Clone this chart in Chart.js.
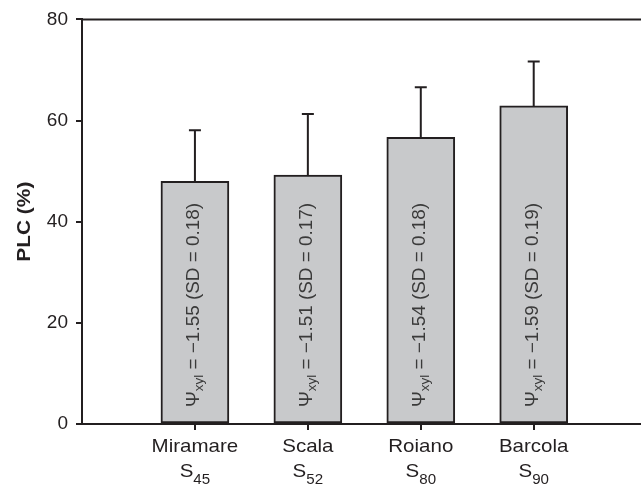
<!DOCTYPE html>
<html>
<head>
<meta charset="utf-8">
<script src="https://cdn.jsdelivr.net/npm/chart.js@4/dist/chart.umd.min.js"></script>
<style>
  html, body { margin: 0; padding: 0; background: #ffffff; }
  #wrap { width: 641px; height: 486px; }
</style>
</head>
<body>
<div id="wrap"><canvas id="plc" width="641" height="486"></canvas></div>
<script>
// Sites along the transect and their code
const sites = ['Miramare', 'Scala', 'Roiano', 'Barcola'];
const siteCodes = ['45', '52', '80', '90'];
// Percentage loss of hydraulic conductivity (mean) and its error
const plcMean = [48.0, 49.2, 56.7, 62.9];
const plcError = [10.1, 12.1, 9.9, 8.8];
// Xylem water potential (MPa) and its standard deviation
const psiXyl = ['\u22121.55', '\u22121.51', '\u22121.54', '\u22121.59'];
const psiSD = ['0.18', '0.17', '0.18', '0.19'];
const yTicks = [0, 20, 40, 60, 80];

const INK = '#231f20';
const FONT = '"Liberation Sans", Arial, sans-serif';

const sitePositions = sites.map((_, i) => i + 1);

// Draws text stretched along its own direction
function wideText(ctx, text, x, y, stretch) {
  ctx.save();
  ctx.translate(x, y);
  ctx.scale(stretch, 1);
  ctx.fillText(text, 0, 0);
  ctx.restore();
  return ctx.measureText(text).width * stretch;
}

// Error bars above each column
const errorBars = {
  id: 'errorBars',
  afterDatasetsDraw(chart) {
    const { ctx, scales: { x, y } } = chart;
    ctx.save();
    ctx.strokeStyle = INK;
    ctx.lineWidth = 2;
    plcMean.forEach((v, i) => {
      const px = x.getPixelForValue(sitePositions[i]);
      const top = y.getPixelForValue(v + plcError[i]);
      const base = y.getPixelForValue(v);
      ctx.beginPath();
      ctx.moveTo(px, base);
      ctx.lineTo(px, top);
      ctx.moveTo(px - 6, top);
      ctx.lineTo(px + 6, top);
      ctx.stroke();
    });
    ctx.restore();
  }
};

// Vertical water-potential annotations inside the columns
const barText = {
  id: 'barText',
  afterDatasetsDraw(chart) {
    const { ctx, scales: { x, y } } = chart;
    const big = '17.5px ' + FONT;
    const small = '12.5px ' + FONT;
    const k = 1.08;
    ctx.save();
    ctx.fillStyle = '#3a3a3a';
    ctx.textBaseline = 'alphabetic';
    ctx.textAlign = 'left';
    sites.forEach((_, i) => {
      const px = x.getPixelForValue(sitePositions[i]);
      const py = y.getPixelForValue(0) - 17;
      ctx.save();
      ctx.translate(px + 4, py);
      ctx.rotate(-Math.PI / 2);
      let cx = 0;
      ctx.font = big;
      cx += wideText(ctx, '\u03A8', cx, 0, k);
      ctx.font = small;
      cx += wideText(ctx, 'xyl', cx, 4, k);
      ctx.font = big;
      wideText(ctx, ' = ' + psiXyl[i] + ' (SD = ' + psiSD[i] + ')', cx, 0, k);
      ctx.restore();
    });
    ctx.restore();
  }
};

// Axis title, category names with subscripted site codes, and the top frame line
const frameAndLabels = {
  id: 'frameAndLabels',
  afterDraw(chart) {
    const { ctx, chartArea, scales: { x, y } } = chart;
    ctx.save();
    ctx.strokeStyle = INK;
    ctx.lineWidth = 2;
    ctx.beginPath();
    ctx.moveTo(chartArea.left, chartArea.top);
    ctx.lineTo(chartArea.right, chartArea.top);
    ctx.stroke();

    ctx.fillStyle = INK;
    ctx.textBaseline = 'alphabetic';
    ctx.textAlign = 'left';

    // y-axis title
    ctx.save();
    ctx.font = 'bold 19px ' + FONT;
    const title = 'PLC (%)';
    const tw = ctx.measureText(title).width * 1.1;
    ctx.translate(30, (chartArea.top + chartArea.bottom) / 2);
    ctx.rotate(-Math.PI / 2);
    wideText(ctx, title, -tw / 2, 0, 1.1);
    ctx.restore();

    const base = y.getPixelForValue(0);
    const k = 1.08;
    sites.forEach((name, i) => {
      const px = x.getPixelForValue(sitePositions[i]);
      ctx.font = '19px ' + FONT;
      const nw = ctx.measureText(name).width * k;
      wideText(ctx, name, px - nw / 2, base + 28, k);
      const sW = ctx.measureText('S').width * k;
      ctx.font = '14px ' + FONT;
      const subW = ctx.measureText(siteCodes[i]).width * k;
      const start = px - (sW + subW) / 2;
      ctx.font = '19px ' + FONT;
      wideText(ctx, 'S', start, base + 53, k);
      ctx.font = '14px ' + FONT;
      wideText(ctx, siteCodes[i], start + sW, base + 60, k);
    });
    ctx.restore();
  }
};

new Chart(document.getElementById('plc'), {
  type: 'bar',
  data: {
    datasets: [{
      data: plcMean.map((v, i) => ({ x: sitePositions[i], y: v })),
      backgroundColor: '#c8c9cb',
      borderColor: INK,
      borderWidth: 2,
      borderSkipped: false,
      barThickness: 68
    }]
  },
  options: {
    responsive: false,
    devicePixelRatio: 1,
    animation: false,
    layout: { padding: { top: 19, right: 0, left: 0, bottom: 0 } },
    plugins: { legend: { display: false }, tooltip: { enabled: false } },
    scales: {
      x: {
        type: 'linear',
        offset: false,
        min: 0,
        max: 4.95,
        afterBuildTicks: (s) => { s.ticks = sitePositions.map(v => ({ value: v })); },
        afterFit: (s) => { s.height = 62; },
        ticks: { display: false },
        grid: { offset: false, drawOnChartArea: false, drawTicks: true, tickLength: 6, color: INK, lineWidth: 2 },
        border: { color: INK, width: 2 }
      },
      y: {
        min: 0,
        max: 80,
        afterBuildTicks: (s) => { s.ticks = yTicks.map(v => ({ value: v })); },
        afterFit: (s) => { s.width = 82; },
        ticks: { color: INK, font: { family: FONT, size: 19 }, padding: 8 },
        grid: { drawOnChartArea: false, drawTicks: true, tickLength: 6, color: INK, lineWidth: 2 },
        border: { color: INK, width: 2 }
      }
    }
  },
  plugins: [errorBars, barText, frameAndLabels]
});
</script>
</body>
</html>
